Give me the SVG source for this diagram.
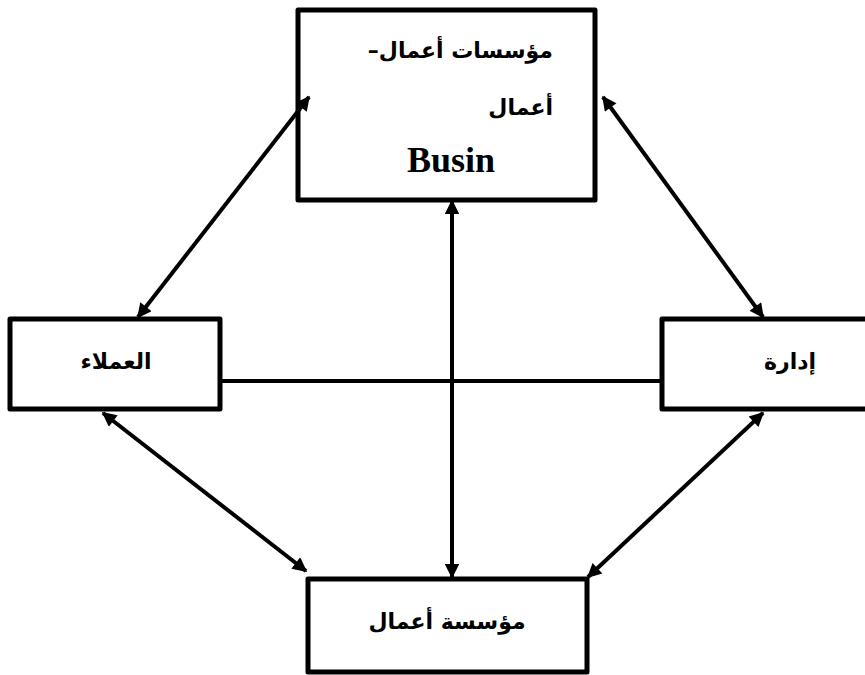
<svg xmlns="http://www.w3.org/2000/svg" width="865" height="675" viewBox="0 0 865 675">
  <style>
    .box { fill: #fff; stroke: #000; stroke-width: 5; stroke-linejoin: round; }
    .ar { font-family: "DejaVu Sans", "Noto Sans", sans-serif; font-weight: bold; font-size: 22px; fill: #000; }
    .lat { font-family: "Liberation Serif", "Times New Roman", serif; font-weight: bold; font-size: 36px; fill: #000; }
    .link { stroke: #000; stroke-width: 4; fill: none; }
    .arrow { stroke: #000; stroke-width: 4; fill: none; marker-start: url(#head); marker-end: url(#head); }
  </style>
  <defs>
    <marker id="head" viewBox="0 0 10 10" refX="9" refY="5" markerWidth="4.2" markerHeight="3.6" orient="auto-start-reverse" markerUnits="strokeWidth">
      <path d="M0,0 L10,5 L0,10 z" fill="#000"/>
    </marker>
  </defs>

  <g id="node-business">
    <rect class="box" x="298" y="10" width="297" height="190"/>
    <text class="ar" x="553" y="58" text-anchor="start" direction="rtl">مؤسسات أعمال–</text>
    <text class="ar" x="553" y="115" text-anchor="start" direction="rtl">أعمال</text>
    <text class="lat" x="451" y="172" text-anchor="middle">Busin</text>
  </g>

  <g id="node-customers">
    <rect class="box" x="10" y="319" width="210" height="90"/>
    <text class="ar" x="116" y="369" text-anchor="middle" direction="rtl">العملاء</text>
  </g>

  <g id="node-management">
    <rect class="box" x="662" y="319" width="215" height="90"/>
    <text class="ar" x="790" y="369" text-anchor="middle" direction="rtl">إدارة</text>
  </g>

  <g id="node-enterprise">
    <rect class="box" x="308" y="579" width="279" height="93"/>
    <text class="ar" x="447" y="629" text-anchor="middle" direction="rtl">مؤسسة أعمال</text>
  </g>

  <!-- connectors, drawn over the box edges -->
  <g id="connectors">
    <line class="link" x1="220" y1="381" x2="662" y2="381"/>
    <line class="arrow" x1="452" y1="201" x2="452" y2="577"/>
    <line class="arrow" x1="309" y1="97" x2="138" y2="317"/>
    <line class="arrow" x1="603" y1="97" x2="763" y2="317"/>
    <line class="arrow" x1="103" y1="413" x2="306" y2="571"/>
    <line class="arrow" x1="763" y1="413" x2="588" y2="577"/>
  </g>
</svg>
